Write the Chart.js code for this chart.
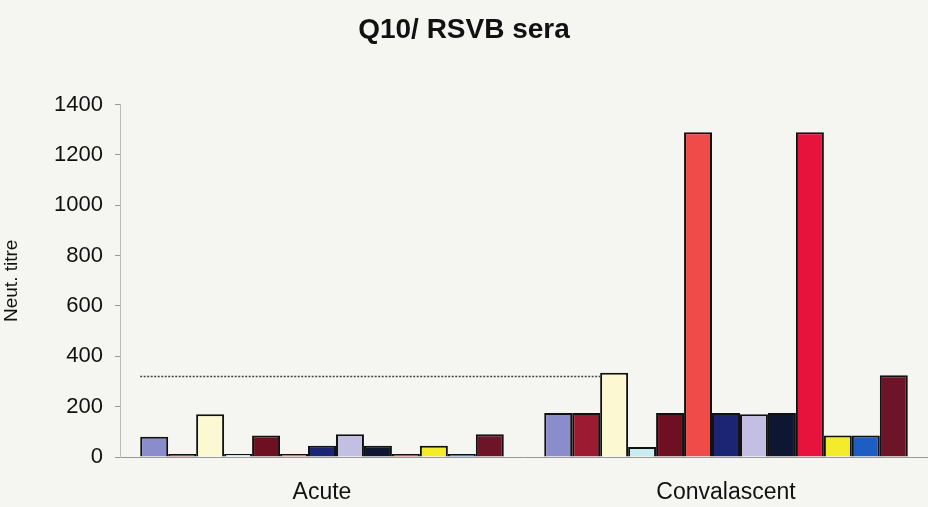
<!DOCTYPE html>
<html>
<head>
<meta charset="utf-8">
<script src="https://cdn.jsdelivr.net/npm/chart.js@4/dist/chart.umd.min.js"></script>
<style>
    html, body { margin: 0; padding: 0; background: #f5f6f2; }
    #wrap { width: 928px; height: 507px; }
</style>
</head>
<body>
<div id="wrap"><canvas id="titre-chart"></canvas></div>
<script>
var groups = ['Acute', 'Convalascent'];
var acuteTitres = [80, 12, 170, 12, 85, 12, 45, 90, 45, 12, 45, 12, 90];
var convTitres = [175, 175, 335, 40, 175, 1290, 175, 170, 175, 1290, 85, 85, 325];
var seriesColors = ['#8a8ccb', '#9c1b32', '#fbf8d2', '#c8edf0', '#6f1022', '#ef4b49', '#1b2573',
    '#c3bfe2', '#0f1632', '#e7133d', '#f4eb2b', '#1e5dc2', '#6d1429'];
var yTicks = [0, 200, 400, 600, 800, 1000, 1200, 1400];
var cutoff = 320;

// dotted cut-off line, from first acute bar to the cream convalescent bar
var cutoffLine = {
    id: 'cutoffLine',
    afterDatasetsDraw: function(chart) {
        var y = chart.scales.y.getPixelForValue(cutoff);
        var first = chart.getDatasetMeta(0).data[0];
        var last = chart.getDatasetMeta(2).data[1];
        var x0 = first.x - first.width / 2;
        var x1 = last.x - last.width / 2;
        var ctx = chart.ctx;
        ctx.save();
        ctx.strokeStyle = '#444';
        ctx.lineWidth = 1.5;
        ctx.setLineDash([2, 1.5]);
        ctx.beginPath();
        ctx.moveTo(x0, y);
        ctx.lineTo(x1, y);
        ctx.stroke();
        ctx.restore();
    }
};

var datasets = seriesColors.map(function(c, i) {
    return {
        data: [acuteTitres[i], convTitres[i]],
        backgroundColor: c,
        borderColor: '#111',
        borderWidth: 2,
        borderSkipped: 'bottom',
        barPercentage: 1,
        categoryPercentage: 0.9
    };
});

new Chart(document.getElementById('titre-chart'), {
    type: 'bar',
    data: { labels: groups, datasets: datasets },
    plugins: [cutoffLine],
    options: {
        responsive: true,
        maintainAspectRatio: false,
        animation: false,
        layout: { padding: { left: 0, right: 0, top: 0, bottom: 0 } },
        plugins: {
            legend: { display: false },
            tooltip: { enabled: false },
            title: {
                display: true,
                text: 'Q10/ RSVB sera',
                color: '#111',
                font: { family: 'Liberation Sans', size: 28, weight: 'bold' },
                padding: { top: 13, bottom: 58 }
            }
        },
        scales: {
            x: {
                grid: { drawOnChartArea: false, drawTicks: false },
                border: { color: '#999', dash: [2, 2], width: 1 },
                ticks: { color: '#111', padding: 22, font: { family: 'Liberation Sans', size: 23 } },
                afterFit: function(s) { s.height = 50; }
            },
            y: {
                min: 0,
                max: 1400,
                afterBuildTicks: function(s) { s.ticks = yTicks.map(function(v) { return { value: v }; }); },
                grid: { drawOnChartArea: false, tickLength: 5, color: '#999' },
                border: { color: '#bbb', dash: [2, 2], width: 1 },
                ticks: {
                    color: '#111',
                    padding: 12,
                    font: { family: 'Liberation Sans', size: 22 },
                    callback: function(v) { return String(v); }
                },
                title: {
                    display: true,
                    text: 'Neut. titre',
                    color: '#111',
                    font: { family: 'Liberation Sans', size: 19 },
                    padding: { top: 0, bottom: 6 }
                },
                afterFit: function(s) { s.width = 120; }
            }
        }
    }
});
</script>
</body>
</html>
